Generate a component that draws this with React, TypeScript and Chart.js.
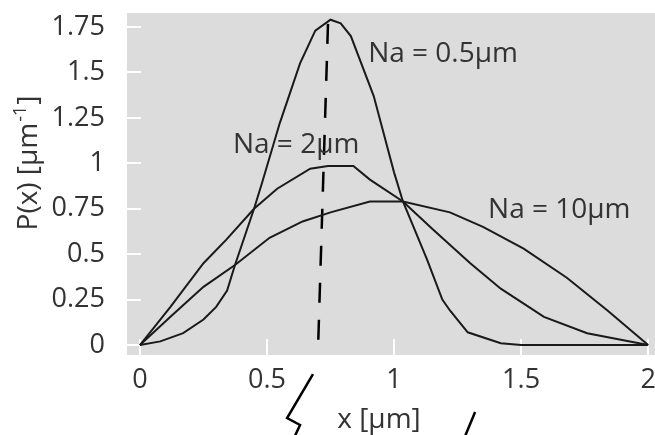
import React, { useEffect, useRef } from 'react';
import { Chart, registerables } from 'chart.js';

Chart.register(...registerables);

// ---- data ----
const xTicks = [0, 0.5, 1, 1.5, 2];
const xTickLabels = ['0', '0.5', '1', '1.5', '2'];
const yTicks = [0, 0.25, 0.5, 0.75, 1, 1.25, 1.5, 1.75];
const yTickLabels = ['0', '0.25', '0.5', '0.75', '1', '1.25', '1.5', '1.75'];

const na05X = [0, 0.08, 0.17, 0.25, 0.3, 0.343, 0.374, 0.449, 0.48, 0.55, 0.63, 0.69, 0.75, 0.79, 0.83, 0.92, 1.0, 1.035, 1.13, 1.19, 1.22, 1.29, 1.42, 1.5, 2.0];
const na05Y = [0, 0.02, 0.065, 0.14, 0.21, 0.3, 0.44, 0.75, 0.89, 1.22, 1.55, 1.73, 1.79, 1.77, 1.7, 1.37, 0.95, 0.79, 0.47, 0.25, 0.19, 0.07, 0.01, 0, 0];

const na2X = [0, 0.12, 0.25, 0.34, 0.449, 0.54, 0.67, 0.74, 0.84, 0.905, 1.035, 1.15, 1.3, 1.42, 1.59, 1.76, 2.0];
const na2Y = [0, 0.21, 0.45, 0.58, 0.75, 0.86, 0.97, 0.985, 0.985, 0.91, 0.79, 0.64, 0.45, 0.31, 0.155, 0.065, 0];

const na10X = [0, 0.12, 0.25, 0.374, 0.51, 0.64, 0.75, 0.905, 1.035, 1.22, 1.35, 1.51, 1.68, 1.84, 2.0];
const na10Y = [0, 0.155, 0.32, 0.44, 0.59, 0.68, 0.73, 0.79, 0.79, 0.73, 0.65, 0.53, 0.37, 0.19, 0];

// hand-drawn marks (data coordinates)
const dashX = [0.74, 0.70];
const dashY = [1.767, -0.06];
const zigX = [0.681, 0.579, 0.63, 0.61];
const zigY = [-0.16, -0.402, -0.44, -0.5];
const slashX = [1.319, 1.28];
const slashY = [-0.369, -0.5];

const curveLabels = ['Na = 0.5\u00b5m', 'Na = 2\u00b5m', 'Na = 10\u00b5m'];
const labelX = [0.898, 0.366, 1.37];
const labelY = [1.557, 1.057, 0.699];

const toPts = (xs: number[], ys: number[]) => xs.map((x, i) => ({ x, y: ys[i] }));

const FONT = "'Open Sans', 'DejaVu Sans', sans-serif";
const TEXT = '#333333';

const decoPlugin = {
  id: 'deco',
  beforeDraw(chart: any) {
    const { ctx, chartArea: a } = chart;
    ctx.save();
    ctx.fillStyle = '#dcdcdc';
    ctx.fillRect(a.left, a.top, a.right - a.left, a.bottom - a.top);
    ctx.restore();
  },
  beforeDatasetsDraw(chart: any) {
    const { ctx, chartArea: a, scales } = chart;
    ctx.save();
    ctx.strokeStyle = '#ffffff';
    ctx.lineWidth = 2;
    xTicks.forEach((v) => {
      const px = Math.round(scales.x.getPixelForValue(v));
      ctx.beginPath();
      ctx.moveTo(px, a.bottom);
      ctx.lineTo(px, a.bottom - 16);
      ctx.stroke();
    });
    yTicks.forEach((v) => {
      const py = Math.round(scales.y.getPixelForValue(v));
      ctx.beginPath();
      ctx.moveTo(a.left, py);
      ctx.lineTo(a.left + 14, py);
      ctx.stroke();
    });
    ctx.restore();
  },
  afterDraw(chart: any) {
    const { ctx, scales } = chart;
    ctx.save();
    ctx.fillStyle = TEXT;
    ctx.font = `28px ${FONT}`;
    ctx.textBaseline = 'alphabetic';
    ctx.textAlign = 'left';
    curveLabels.forEach((t, i) => {
      ctx.fillText(t, scales.x.getPixelForValue(labelX[i]), scales.y.getPixelForValue(labelY[i]));
    });
    // x title
    ctx.textAlign = 'center';
    ctx.fillText('x [\u00b5m]', 379, 428);
    // y title rotated with superscript
    ctx.translate(37, 163);
    ctx.rotate(-Math.PI / 2);
    ctx.textAlign = 'left';
    const main = 'P(x) [\u00b5m';
    ctx.font = `28px ${FONT}`;
    const w1 = ctx.measureText(main).width;
    ctx.font = `18px ${FONT}`;
    const w2 = ctx.measureText('-1').width;
    ctx.font = `28px ${FONT}`;
    const w3 = ctx.measureText(']').width;
    let x0 = -(w1 + w2 + w3 + 2) / 2;
    ctx.fillText(main, x0, 0);
    ctx.font = `18px ${FONT}`;
    ctx.fillText('-1', x0 + w1 + 1, -11);
    ctx.font = `28px ${FONT}`;
    ctx.fillText(']', x0 + w1 + w2 + 2, 0);
    ctx.restore();
  },
};

export default function App() {
  const ref = useRef<HTMLCanvasElement>(null);
  useEffect(() => {
    if (!ref.current) return;
    const curve = (xs: number[], ys: number[]) => ({
      data: toPts(xs, ys),
      borderColor: '#1a1a1a',
      borderWidth: 2,
      pointRadius: 0,
      tension: 0,
      fill: false,
    });
    const mark = (xs: number[], ys: number[], dash: number[]) => ({
      data: toPts(xs, ys),
      borderColor: '#000000',
      borderWidth: 2.5,
      borderDash: dash,
      pointRadius: 0,
      tension: 0,
      fill: false,
      clip: false as any,
    });
    const chart = new Chart(ref.current, {
      type: 'line',
      data: {
        datasets: [
          curve(na05X, na05Y),
          curve(na2X, na2Y),
          curve(na10X, na10Y),
          mark(dashX, dashY, [20, 17]),
          mark(zigX, zigY, []),
          mark(slashX, slashY, []),
        ] as any,
      },
      options: {
        animation: false,
        responsive: false,
        devicePixelRatio: 1,
        layout: { padding: { top: 13, right: 0, left: 0, bottom: 0 } },
        plugins: { legend: { display: false }, tooltip: { enabled: false }, title: { display: false } },
        scales: {
          x: {
            type: 'linear',
            min: -0.051,
            max: 2.027,
            grid: { display: false },
            border: { display: false },
            afterBuildTicks: (s: any) => {
              s.ticks = xTicks.map((v) => ({ value: v }));
            },
            afterFit: (s: any) => {
              s.height = 80;
              s.paddingLeft = 0;
              s.paddingRight = 0;
            },
            ticks: {
              autoSkip: false,
              maxRotation: 0,
              padding: 1,
              color: TEXT,
              font: { family: FONT, size: 27 },
              callback: (_v: any, i: number) => xTickLabels[i],
            },
          },
          y: {
            type: 'linear',
            min: -0.055,
            max: 1.827,
            grid: { display: false },
            border: { display: false },
            afterBuildTicks: (s: any) => {
              s.ticks = yTicks.map((v) => ({ value: v }));
            },
            afterFit: (s: any) => {
              s.width = 127;
              s.paddingTop = 0;
              s.paddingBottom = 0;
            },
            ticks: {
              autoSkip: false,
              padding: 14,
              color: TEXT,
              font: { family: FONT, size: 27 },
              callback: (_v: any, i: number) => yTickLabels[i],
            },
          },
        },
      },
      plugins: [decoPlugin],
    });
    return () => chart.destroy();
  }, []);
  return (
    <div style={{ position: 'fixed', left: 0, top: 0, width: 655, height: 435, background: '#fff' }}>
      <canvas ref={ref} width={655} height={435} style={{ display: 'block' }} />
    </div>
  );
}
